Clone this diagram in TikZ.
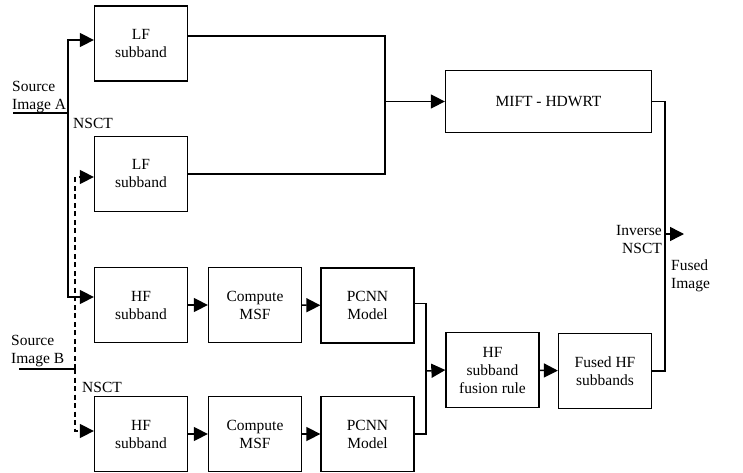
\documentclass[tikz,border=0pt]{standalone}
\usepackage{fontspec}
\setmainfont{Liberation Serif}
\usetikzlibrary{arrows.meta}
\begin{document}
\begin{tikzpicture}[x=1pt,y=-1pt,
  font=\fontsize{15.5}{18}\selectfont,
  box/.style={draw, line width=1.3pt, align=center, inner sep=0pt,
              minimum width=93pt, minimum height=75pt},
  conn/.style={line width=1.5pt},
  arr/.style={conn, -{Triangle[length=14pt,width=14pt]}},
  dash line/.style={dash pattern=on 5pt off 3.5pt},
  lbl/.style={inner sep=0pt, align=left}]
\useasboundingbox (0,0) rectangle (743,473);
% boxes
\node[box] (lf1) at (141,43.5) {LF\\subband};
\node[box] (lf2) at (141,174) {LF\\subband};
\node[box] (hf1) at (141,305) {HF\\subband};
\node[box] (cm1) at (255,305) {Compute\\MSF};
\node[box] (pc1) at (367.5,305.5) {PCNN\\Model};
\node[box] (hf2) at (141,434) {HF\\subband};
\node[box] (cm2) at (255,434) {Compute\\MSF};
\node[box] (pc2) at (367.5,434) {PCNN\\Model};
\node[box] (fr) at (492.5,370) {HF\\subband\\fusion rule};
\node[box] (fh) at (605,371) {Fused HF\\subbands};
\node[box, minimum width=206pt, minimum height=62pt] (mift) at (548.5,101.5) {MIFT - HDWRT};
% labels
\node[lbl, anchor=west] (srcA) at (12,97) {Source\\Image A};
\node[lbl, anchor=base west] (nsctA) at (73,129) {NSCT};
\node[lbl, anchor=west] (srcB) at (11,351) {Source\\Image B};
\node[lbl, anchor=base west] (nsctB) at (82,392) {NSCT};
\node[lbl, anchor=east, align=right] (inv) at (662,239) {Inverse\\NSCT};
\node[lbl, anchor=west] (fused) at (671,276) {Fused\\Image};
% coordinates
\coordinate (sa) at (13,113);
\coordinate (va) at (68,113);
\coordinate (sb) at (19,369);
\coordinate (vb) at (75,369);
\coordinate (j1) at (385,101.5);
\coordinate (j2) at (426,371);
\coordinate (j3) at (665,234);
\coordinate (out) at (684,234);
% source A
\draw[conn] (sa) -- (va);
\draw[arr] (va) |- ([yshift=3.5pt]lf1.west);
\draw[arr] (va) |- ([yshift=8pt]hf1.west);
% source B
\draw[conn] (sb) -- (vb);
\draw[arr, dash line] (vb) |- ([yshift=-3pt]lf2.west);
\draw[arr, dash line] (vb) |- ([yshift=3pt]hf2.west);
% LF path
\draw[conn] ([yshift=7.5pt]lf1.east) -| (j1) |- (lf2.east);
\draw[arr] (j1) -- (mift.west);
% HF paths
\draw[arr] (hf1) -- (cm1);
\draw[arr] (cm1) -- (pc1);
\draw[arr] (hf2) -- (cm2);
\draw[arr] (cm2) -- (pc2);
\draw[conn] ([yshift=2pt]pc1.east) -| (j2) |- (pc2.east);
\draw[arr] (j2) -- (fr.west);
\draw[arr] (fr) -- (fh);
% output
\draw[conn] (fh.east) -| (j3) |- (mift.east);
\draw[arr] (j3) -- (out);
\end{tikzpicture}
\end{document}
